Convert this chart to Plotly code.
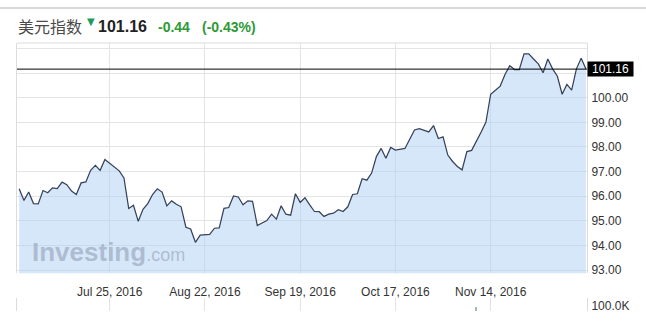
import pandas as pd
import plotly.graph_objects as go

# ---------------- data ----------------
dates = pd.bdate_range("2016-06-28", "2016-12-12")
values = [
    96.30, 95.83, 96.17, 95.70, 95.69, 96.23, 96.14, 96.34, 96.31, 96.57,
    96.47, 96.21, 96.07, 96.54, 96.58, 97.05, 97.25, 97.05, 97.49, 97.34,
    97.19, 97.03, 96.74, 95.50, 95.63, 94.98, 95.47, 95.70, 96.07, 96.30,
    96.17, 95.61, 95.81, 95.67, 95.57, 94.74, 94.67, 94.13, 94.42, 94.45,
    94.45, 94.70, 94.71, 95.51, 95.54, 96.01, 95.97, 95.65, 95.81, 95.79,
    94.81, 94.91, 95.01, 95.27, 95.07, 95.61, 95.27, 95.23, 96.10, 95.75,
    95.94, 95.65, 95.38, 95.37, 95.18, 95.27, 95.31, 95.45, 95.38, 95.57,
    96.07, 96.10, 96.71, 96.65, 96.94, 97.61, 97.94, 97.54, 97.98, 97.87,
    97.90, 97.94, 98.31, 98.69, 98.74, 98.69, 98.61, 98.87, 98.34, 98.41,
    97.67, 97.41, 97.21, 97.07, 97.81, 97.86, 98.21, 98.61, 99.01, 100.14,
    100.30, 100.47, 100.94, 101.30, 101.14, 101.14, 101.78, 101.78, 101.57, 101.37,
    101.01, 101.57, 101.17, 100.87, 100.14, 100.54, 100.31, 101.17, 101.60, 101.16,
]
assert len(dates) == len(values)

x_tick_dates = ["2016-07-25", "2016-08-22", "2016-09-19", "2016-10-17", "2016-11-14"]
x_tick_labels = ["Jul 25, 2016", "Aug 22, 2016", "Sep 19, 2016", "Oct 17, 2016", "Nov 14, 2016"]
y_tick_vals = [93, 94, 95, 96, 97, 98, 99, 100, 101, 102]
y_tick_labels = ["93.00", "94.00", "95.00", "96.00", "97.00", "98.00", "99.00", "100.00", "", ""]

volume_dates = ["2016-11-09"]
volume_values = [30000]
volume_tick_vals = [100000]
volume_tick_labels = ["100.0K"]

title_name = "美元指数"
last_price = "101.16"
change_abs = "-0.44"
change_pct = "(-0.43%)"

# ---------------- layout geometry ----------------
W, H = 646, 327
L, R, T, B = 17, 59, 43, 12
PW, PH = W - L - R, H - T - B


def px2x(px):
    return (px - L) / PW


def py2y(py):
    return (H - B - py) / PH


FONT = "Liberation Sans, Arial, sans-serif"
GRID = "#e4e4e4"
FRAME = "#dcdcdc"
LINE = "#36425a"
FILL = "rgba(176,208,246,0.5)"
GREEN = "#2e9a35"

fig = go.Figure()

fig.add_trace(go.Scatter(
    x=dates, y=values, mode="lines",
    line=dict(color=LINE, width=1.25),
    fill="tozeroy", fillcolor=FILL,
    xaxis="x", yaxis="y", hoverinfo="skip",
))

fig.add_trace(go.Bar(
    x=volume_dates, y=volume_values,
    marker=dict(color="#9dbcae", line=dict(width=0)),
    width=0.45 * 86400000,
    xaxis="x2", yaxis="y2", hoverinfo="skip",
))

x_range = ["2016-06-27 13:00", "2016-12-12 05:20"]
rb = [dict(bounds=["sat", "mon"])]

fig.update_layout(
    width=W, height=H,
    margin=dict(l=L, r=R, t=T, b=B, pad=0),
    paper_bgcolor="white", plot_bgcolor="white",
    showlegend=False,
    font=dict(family=FONT, size=12, color="#333333"),
    xaxis=dict(
        domain=[0, 1], anchor="y", range=x_range, rangebreaks=rb,
        tickmode="array", tickvals=x_tick_dates, ticktext=x_tick_labels,
        showgrid=True, gridcolor=GRID, gridwidth=1,
        ticks="outside", ticklen=7, tickcolor="rgba(0,0,0,0)",
        tickfont=dict(family=FONT, size=12, color="#333333"),
        showline=False, zeroline=False,
    ),
    yaxis=dict(
        domain=[py2y(276.7), 1], anchor="x", side="right",
        range=[92.872, 102.22],
        tickmode="array", tickvals=y_tick_vals, ticktext=y_tick_labels,
        showgrid=True, gridcolor=GRID, gridwidth=1,
        ticks="outside", ticklen=1, tickcolor="rgba(0,0,0,0)",
        tickfont=dict(family=FONT, size=12, color="#333333"),
        showline=True, mirror=True, linecolor=FRAME, linewidth=1,
        zeroline=False,
    ),
    xaxis2=dict(
        domain=[0, 1], anchor="y2", range=x_range, rangebreaks=rb,
        tickmode="array", tickvals=x_tick_dates, showticklabels=False,
        showgrid=True, gridcolor=GRID, ticks="", zeroline=False, showline=False,
    ),
    yaxis2=dict(
        domain=[0, py2y(302.3)], anchor="x2", side="right",
        range=[0, 100000],
        tickmode="array", tickvals=volume_tick_vals, ticktext=volume_tick_labels,
        showgrid=True, gridcolor=GRID,
        ticks="outside", ticklen=1, tickcolor="rgba(0,0,0,0)",
        ticklabelshift=7,
        tickfont=dict(family=FONT, size=12, color="#333333"),
        showline=True, mirror=True, linecolor=FRAME, linewidth=1,
        zeroline=False,
    ),
    bargap=0,
)

shapes = [
    # last price line
    dict(type="line", xref="x domain", yref="y", x0=0, x1=1, y0=values[-1], y1=values[-1],
         line=dict(color="#000000", width=1)),
    # top frame line of main pane
    dict(type="line", xref="x domain", yref="y domain", x0=0, x1=1, y0=1, y1=1,
         line=dict(color=FRAME, width=1)),
    # page separator line at the very top
    dict(type="line", xref="paper", yref="paper", x0=px2x(0), x1=px2x(W),
         y0=py2y(7.5), y1=py2y(7.5), line=dict(color="#d8d8d8", width=2)),
]
for s in shapes:
    fig.add_shape(**s)

ann = []
# header
ann.append(dict(text=title_name, xref="paper", yref="paper", x=px2x(16), y=py2y(26),
                xanchor="left", yanchor="middle", showarrow=False,
                font=dict(family="Noto Sans CJK SC", size=16, color="#4a4a4a")))
ann.append(dict(text="▼", xref="paper", yref="paper", x=px2x(85), y=py2y(21),
                xanchor="left", yanchor="middle", showarrow=False,
                font=dict(family="DejaVu Sans", size=10, color="#1f9a5c")))
ann.append(dict(text="<b>" + last_price + "</b>", xref="paper", yref="paper", x=px2x(96), y=py2y(26),
                xanchor="left", yanchor="middle", showarrow=False,
                font=dict(family=FONT, size=16, color="#222222")))
ann.append(dict(text="<b>" + change_abs + "</b>", xref="paper", yref="paper", x=px2x(156), y=py2y(27),
                xanchor="left", yanchor="middle", showarrow=False,
                font=dict(family=FONT, size=14, color=GREEN)))
ann.append(dict(text="<b>" + change_pct + "</b>", xref="paper", yref="paper", x=px2x(200), y=py2y(27),
                xanchor="left", yanchor="middle", showarrow=False,
                font=dict(family=FONT, size=14, color=GREEN)))
# last price tag
ann.append(dict(text=f"{values[-1]:.2f}", xref="paper", yref="y", x=1, y=values[-1],
                xanchor="left", yanchor="middle", showarrow=False,
                bgcolor="#000000", borderpad=0, width=45, height=14,
                font=dict(family=FONT, size=12, color="#ffffff")))
# watermark
ann.append(dict(text="<b>Investing</b><span style='font-size:18px'>.com</span>",
                xref="paper", yref="paper", x=px2x(30), y=py2y(255),
                xanchor="left", yanchor="middle", showarrow=False,
                font=dict(family=FONT, size=26, color="rgba(145,160,182,0.6)")))
for a in ann:
    fig.add_annotation(**a)

fig.write_html("out.html")
